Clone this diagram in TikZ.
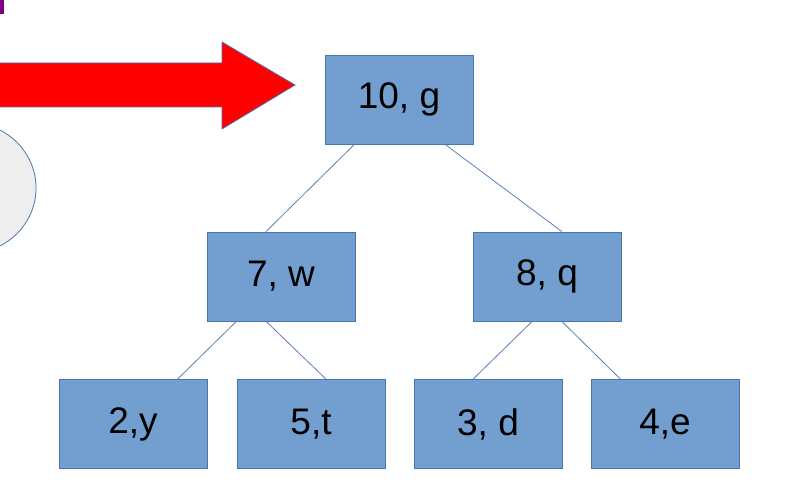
\documentclass[tikz,border=0pt]{standalone}
\usepackage{fontspec}
\setmainfont{Liberation Sans}
\usetikzlibrary{calc}
\definecolor{boxfill}{HTML}{729FCF}
\definecolor{boxline}{HTML}{4A76AE}
\definecolor{linkcol}{HTML}{5A82B8}
\definecolor{ellfill}{HTML}{EEEEEE}
\definecolor{markcol}{HTML}{800080}
\tikzset{
  treebox/.style={draw=boxline, fill=boxfill, line width=0.9pt, minimum width=148pt, minimum height=89pt, inner sep=0pt, font=\fontsize{37}{44}\selectfont, text=black},
  link/.style={draw=linkcol, line width=0.8pt}
}
\begin{document}
\begin{tikzpicture}[x=1pt,y=-1pt]
\useasboundingbox (0,0) rectangle (788,500);
\fill[white] (0,0) rectangle (788,500);
% purple mark
\fill[markcol] (0,0) rectangle (4,14);
% ellipse (partly off the page)
\begin{scope}
\clip (0,0) rectangle (788,500);
\draw[draw=boxline, fill=ellfill, line width=0.8pt] (-30,188) ellipse [x radius=66, y radius=65];
% red arrow
\draw[draw=boxline, fill=red, line width=0.8pt] (-2,63) -- (222,63) -- (222,42) -- (295,85) -- (222,129) -- (222,107) -- (-2,107) -- cycle;
\end{scope}
% nodes
\node[treebox] (g) at (399,99.5) {10, g};
\node[treebox] (w) at (281,276.5) {7, w};
\node[treebox] (q) at (547,276.5) {8, q};
\node[treebox] (y) at (133,424) {2,y};
\node[treebox] (t) at (311,424) {5,t};
\node[treebox] (d) at (488,424) {3, d};
\node[treebox] (e) at (665,424) {4,e};
% connectors
\draw[link] ($(g.south west)!0.2!(g.south east)$) -- ($(w.north west)!0.4!(w.north east)$);
\draw[link] ($(g.south west)!0.81!(g.south east)$) -- ($(q.north west)!0.6!(q.north east)$);
\draw[link] ($(w.south west)!0.2!(w.south east)$) -- ($(y.north west)!0.8!(y.north east)$);
\draw[link] ($(w.south west)!0.4!(w.south east)$) -- ($(t.north west)!0.6!(t.north east)$);
\draw[link] ($(q.south west)!0.4!(q.south east)$) -- ($(d.north west)!0.4!(d.north east)$);
\draw[link] ($(q.south west)!0.6!(q.south east)$) -- ($(e.north west)!0.2!(e.north east)$);
\end{tikzpicture}
\end{document}
